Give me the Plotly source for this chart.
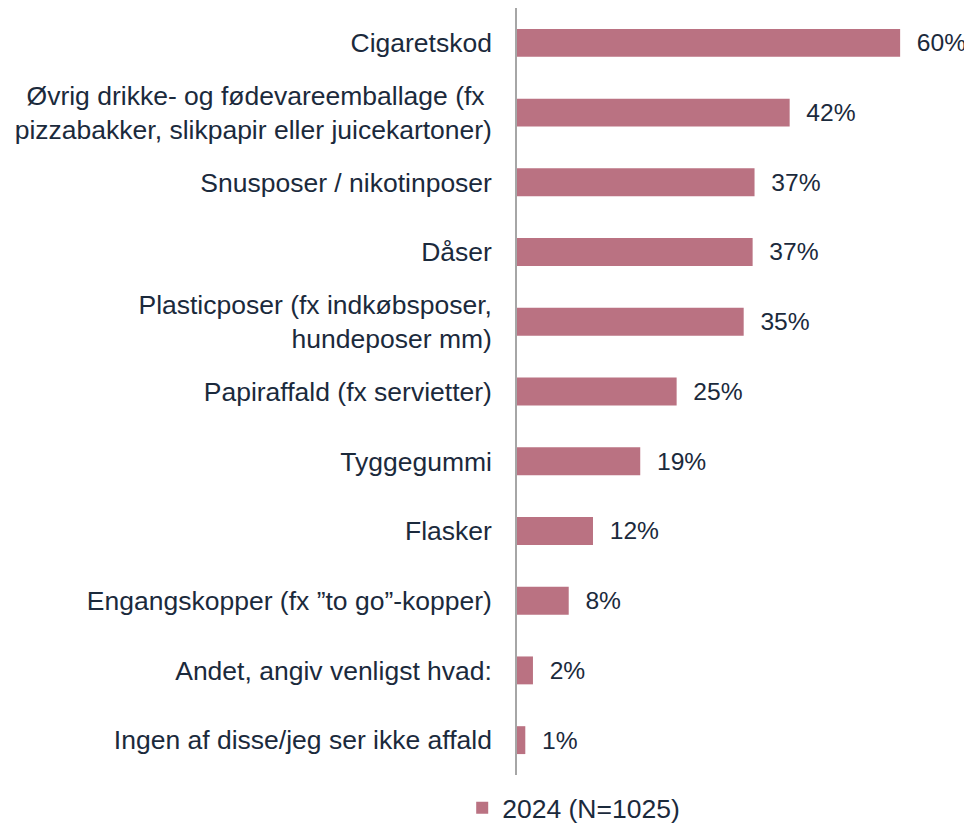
import plotly.graph_objects as go

categories = [
    "Cigaretskod",
    "Øvrig drikke- og fødevareemballage (fx <br>pizzabakker, slikpapir eller juicekartoner)",
    "Snusposer / nikotinposer",
    "Dåser",
    "Plasticposer (fx indkøbsposer,<br>hundeposer mm)",
    "Papiraffald (fx servietter)",
    "Tyggegummi",
    "Flasker",
    "Engangskopper (fx ”to go”-kopper)",
    "Andet, angiv venligst hvad:",
    "Ingen af disse/jeg ser ikke affald",
]
values = [60.0, 42.7, 37.2, 36.9, 35.5, 25.0, 19.3, 11.9, 8.1, 2.5, 1.3]
labels = ["60%", "42%", "37%", "37%", "35%", "25%", "19%", "12%", "8%", "2%", "1%"]
series_name = "2024 (N=1025)"

bar_color = "#BA7282"
text_color = "#1B2A3C"
font_family = "Liberation Sans, Arial, sans-serif"
fs = 26.5

fig = go.Figure()
fig.add_trace(go.Bar(
    y=categories,
    x=values,
    orientation="h",
    name=series_name,
    marker=dict(color=bar_color, line=dict(width=0)),
    text=labels,
    texttemplate="\u00a0\u00a0%{text}",
    textposition="outside",
    textfont=dict(size=fs, color=text_color, family=font_family),
    cliponaxis=False,
    showlegend=True,
))

fig.update_layout(
    width=972,
    height=823,
    margin=dict(l=509, r=20, t=0, b=56),
    paper_bgcolor="white",
    plot_bgcolor="white",
    font=dict(family=font_family, size=fs, color=text_color),
    bargap=0.6,
    showlegend=True,
    legend=dict(
        orientation="h",
        xref="container",
        x=0.582,
        xanchor="center",
        yref="container",
        y=0.028,
        yanchor="middle",
        font=dict(size=fs, color=text_color),
        itemwidth=30,
    ),
    xaxis=dict(
        range=[0, (953 - 509) / 6.4],
        showgrid=False,
        zeroline=False,
        showticklabels=False,
        showline=False,
        fixedrange=True,
        automargin=False,
    ),
    yaxis=dict(
        autorange="reversed",
        showgrid=False,
        zeroline=False,
        showline=True,
        linecolor="#A6A6A6",
        linewidth=1.5,
        ticks="",
        ticklabelstandoff=18,
        tickfont=dict(size=fs, color=text_color),
        automargin=False,
    ),
)

fig.write_html("out.html")
